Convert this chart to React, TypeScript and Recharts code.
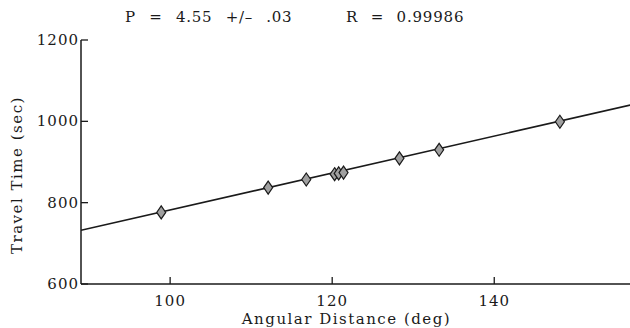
import React from 'react';
import { ComposedChart, Line, Scatter, XAxis, YAxis } from 'recharts';

// Observed arrivals: angular distance (deg) vs travel time (sec)
const distances = [98.9, 112.1, 116.8, 120.3, 120.8, 121.4, 128.3, 133.2, 148.1];
const travelTimes = [776, 837, 857, 870, 872, 874, 909, 930, 999];

// Least-squares fit line, sampled at the ends of the distance range
const fitDistances = [89, 157];
const fitTimes = [732, 1041];

const xTicks = [100, 120, 140];
const yTicks = [600, 800, 1000, 1200];
const xDomain = [89, 157];
const yDomain = [600, 1200];

const slopeText = 'P = 4.55 +/\u2013 .03';
const corrText = 'R = 0.99986';

const observations = distances.map((d, i) => ({ x: d, y: travelTimes[i] }));
const fitLine = fitDistances.map((d, i) => ({ x: d, y: fitTimes[i] }));

const FONT = '"DejaVu Serif", "Liberation Serif", serif';
const INK = '#1a1a1a';

const Diamond = (props: any) => {
  const { cx, cy } = props;
  if (cx == null || cy == null) return null;
  const w = 4.5;
  const h = 6.5;
  return (
    <path
      d={`M${cx},${cy - h} L${cx + w},${cy} L${cx},${cy + h} L${cx - w},${cy} Z`}
      fill="#a0a0a0"
      stroke={INK}
      strokeWidth={1.2}
    />
  );
};

const BottomTick = (props: any) => {
  const { x, y, payload } = props;
  return (
    <g>
      <line x1={x} y1={y} x2={x} y2={y - 7} stroke={INK} strokeWidth={1.3} />
      <text
        x={x}
        y={y + 22}
        textAnchor="middle"
        fontFamily={FONT}
        fontSize={15}
        letterSpacing={1}
        fill={INK}
      >
        {payload.value}
      </text>
    </g>
  );
};

const TopTick = (props: any) => {
  const { x, y } = props;
  return <line x1={x} y1={y} x2={x} y2={y + 8} stroke={INK} strokeWidth={1.3} />;
};

const LeftTick = (props: any) => {
  const { x, y, payload } = props;
  return (
    <g>
      <line x1={x} y1={y} x2={x + 7} y2={y} stroke={INK} strokeWidth={1.3} />
      <text
        x={x - 2}
        y={y + 5}
        textAnchor="end"
        fontFamily={FONT}
        fontSize={15}
        letterSpacing={1}
        fill={INK}
      >
        {payload.value}
      </text>
    </g>
  );
};

export default function App() {
  return (
    <div
      style={{
        position: 'absolute',
        left: 0,
        top: 0,
        width: 630,
        height: 328,
        overflow: 'hidden',
        background: '#fff',
      }}
    >
      <ComposedChart
        width={640}
        height={328}
        margin={{ top: 40, right: 8, bottom: 0, left: 0 }}
      >
        <XAxis
          dataKey="x"
          type="number"
          domain={xDomain}
          ticks={xTicks}
          allowDataOverflow
          height={44}
          tickSize={0}
          tickMargin={0}
          tickLine={false}
          tick={<BottomTick />}
          axisLine={{ stroke: INK, strokeWidth: 1.5 }}
          label={{
            value: 'Angular Distance (deg)',
            position: 'insideBottom',
            offset: 4,
            dx: -10,
            style: { fontFamily: FONT, fontSize: 15, letterSpacing: 1.5, fill: INK },
          }}
        />
        <XAxis
          xAxisId="top"
          orientation="top"
          dataKey="x"
          type="number"
          domain={xDomain}
          ticks={xTicks}
          allowDataOverflow
          height={0}
          tickSize={0}
          tickMargin={0}
          tickLine={false}
          tick={<TopTick />}
          axisLine={{ stroke: INK, strokeWidth: 1.5 }}
        />
        <YAxis
          type="number"
          domain={yDomain}
          ticks={yTicks}
          allowDataOverflow
          width={81}
          tickSize={0}
          tickMargin={0}
          tickLine={false}
          tick={<LeftTick />}
          axisLine={{ stroke: INK, strokeWidth: 1.5 }}
          label={{
            value: 'Travel Time (sec)',
            angle: -90,
            position: 'insideLeft',
            offset: 17,
            dy: 92,
            style: { fontFamily: FONT, fontSize: 15, letterSpacing: 1.5, fill: INK },
          }}
        />
        <Line
          data={fitLine}
          dataKey="y"
          type="linear"
          stroke={INK}
          strokeWidth={1.6}
          dot={false}
          activeDot={false}
          isAnimationActive={false}
        />
        <Scatter
          data={observations}
          dataKey="y"
          shape={<Diamond />}
          isAnimationActive={false}
        />
      </ComposedChart>
      <div
        style={{
          position: 'absolute',
          left: 0,
          top: 8,
          width: 630,
          fontFamily: FONT,
          fontSize: 15,
          color: INK,
          whiteSpace: 'pre',
          lineHeight: '18px',
        }}
      >
        <span style={{ position: 'absolute', left: 125, wordSpacing: 8, letterSpacing: 0.7 }}>
          {slopeText}
        </span>
        <span style={{ position: 'absolute', left: 346, wordSpacing: 7, letterSpacing: 0.8 }}>
          {corrText}
        </span>
      </div>
    </div>
  );
}
